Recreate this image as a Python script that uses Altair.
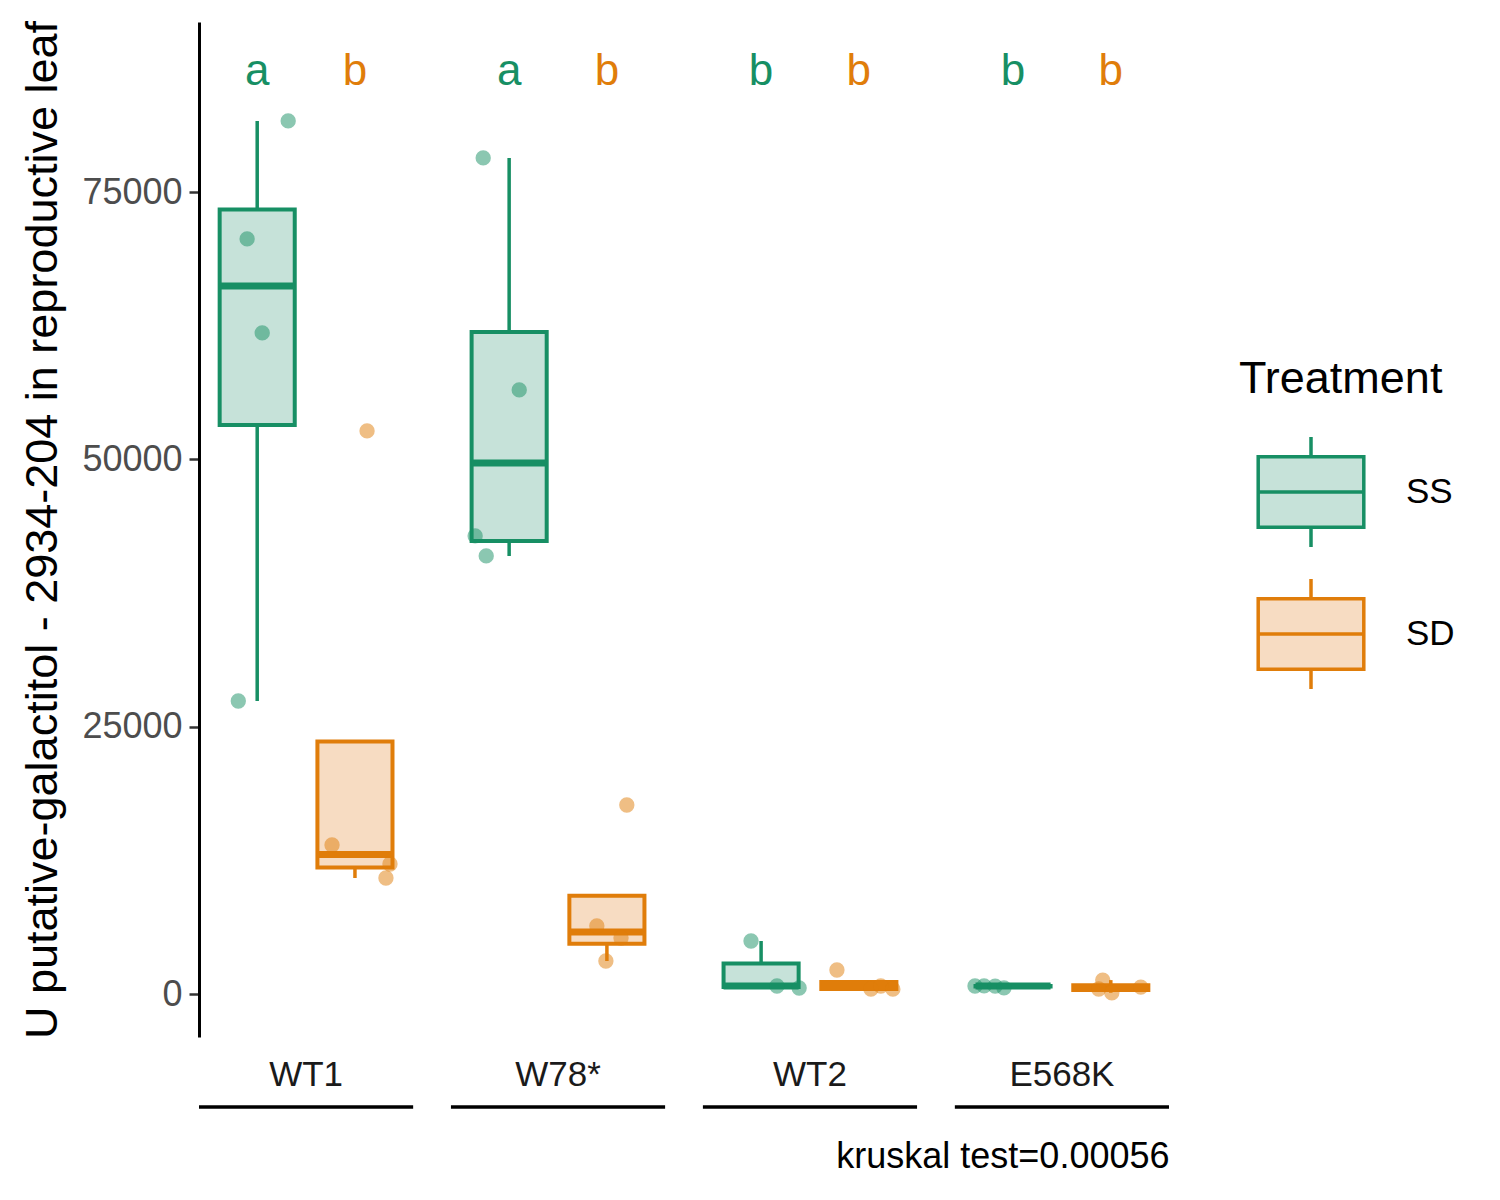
import json
import altair as alt
import pandas as pd

# ---------------- data ----------------
genotypes = ["WT1", "W78*", "WT2", "E568K"]
treatments = ["SS", "SD"]
dark_colors = ["#178F64", "#E07D0A"]
light_colors = ["#C6E2D9", "#F7DCC2"]

sample_genotype = (["WT1"] * 8 + ["W78*"] * 8 + ["WT2"] * 7 + ["E568K"] * 8)
sample_treatment = (["SS"] * 4 + ["SD"] * 4 +
                    ["SS"] * 4 + ["SD"] * 4 +
                    ["SS"] * 3 + ["SD"] * 4 +
                    ["SS"] * 4 + ["SD"] * 4)
sample_value = [81650, 70615, 61823, 27404,
                52657, 13936, 12159, 10849,
                78190, 56492, 42837, 40966,
                17677, 6360, 5238, 3086,
                4957, 748, 561,
                2245, 470, 750, 450,
                750, 760, 740, 580,
                1300, 470, 120, 650]
# horizontal jitter (fraction of group spacing)
sample_jitter = [0.123, -0.040, 0.020, -0.075,
                 0.048, -0.091, 0.139, 0.123,
                 -0.103, 0.040, -0.135, -0.091,
                 0.079, -0.040, 0.056, -0.004,
                 -0.040, 0.063, 0.151,
                 -0.087, 0.048, 0.087, 0.135,
                 -0.151, -0.115, -0.071, -0.036,
                 -0.032, -0.048, 0.004, 0.119]

letter_genotype = ["WT1", "WT1", "W78*", "W78*", "WT2", "WT2", "E568K", "E568K"]
letter_treatment = ["SS", "SD", "SS", "SD", "SS", "SD", "SS", "SD"]
letters = ["a", "b", "a", "b", "b", "b", "b", "b"]

y_title = "U putative-galactitol - 2934-204 in reproductive leaf"
caption = "kruskal test=0.00056"
legend_title = "Treatment"
y_ticks = [0, 25000, 50000, 75000]

# ---------------- layout constants ----------------
W, H = 970, 1015
FONT = "Liberation Sans"
DODGE = 0.194
HALF_BOX = 0.149
HALF_GROUP = 0.425
LETTER_Y = 86200

samples = pd.DataFrame({
    "genotype": sample_genotype,
    "treatment": sample_treatment,
    "value": sample_value,
    "jitter": sample_jitter,
})
letters_df = pd.DataFrame({
    "genotype": letter_genotype,
    "treatment": letter_treatment,
    "letter": letters,
})
geno_df = pd.DataFrame({"genotype": genotypes})

gidx_expr = f"indexof({json.dumps(genotypes)}, datum.genotype)"
pos_expr = f"{gidx_expr} + (datum.treatment == 'SS' ? {-DODGE} : {DODGE})"

x_scale = alt.Scale(domain=[-HALF_GROUP, len(genotypes) - 1 + HALF_GROUP], nice=False, zero=False)
y_scale = alt.Scale(domain=[-4021, 90900], nice=False, zero=False)

x_axis = alt.Axis(domain=False, ticks=False, labels=False, grid=False,
                  title=caption, titleAnchor="end", titleFontSize=36,
                  titleFontWeight="normal", titleColor="#000000", titlePadding=102)
y_axis = alt.Axis(values=y_ticks, format="d", grid=False,
                  labelFontSize=36, labelColor="#4D4D4D", labelPadding=7,
                  tickSize=10, tickWidth=2.5, tickColor="#333333",
                  domainColor="#000000", domainWidth=3,
                  title=y_title, titleFontSize=45, titleFontWeight="normal",
                  titleColor="#000000", titlePadding=16)

symbol_path = ("M-0.96,-0.64H0.96V0.64H-0.96Z M-0.96,0H0.96 "
               "M0,-0.64V-1 M0,0.64V1")
legend = alt.Legend(title=legend_title, orient="none", legendX=1040, legendY=335,
                    symbolType=symbol_path, symbolSize=12100, symbolStrokeWidth=3.5,
                    symbolOffset=15, labelOffset=38, rowPadding=18, titlePadding=33,
                    titleFontSize=45, titleFontWeight="normal", titleColor="#000000",
                    titleLimit=600, labelLimit=300,
                    labelFontSize=35, labelColor="#000000")

stroke_scale = alt.Scale(domain=treatments, range=dark_colors)
fill_scale = alt.Scale(domain=treatments, range=light_colors)
color_scale = alt.Scale(domain=treatments, range=dark_colors)


def X(field):
    return alt.X(field, type="quantitative", scale=x_scale, axis=x_axis, title=caption)


def Y(field):
    return alt.Y(field, type="quantitative", scale=y_scale, axis=y_axis, title=y_title)


stroke_enc = alt.Stroke("treatment:N", scale=stroke_scale, legend=legend, title=legend_title)
fill_enc = alt.Fill("treatment:N", scale=fill_scale, legend=legend, title=legend_title)

base = alt.Chart(samples).transform_calculate(pos=pos_expr)

whiskers = base.transform_joinaggregate(
    q1="q1(value)", q3="q3(value)", groupby=["genotype", "treatment"]
).transform_filter(
    "datum.value >= datum.q1 - 1.5*(datum.q3-datum.q1) && datum.value <= datum.q3 + 1.5*(datum.q3-datum.q1)"
).transform_aggregate(
    lo="min(value)", hi="max(value)", groupby=["genotype", "treatment", "pos"]
).mark_rule(strokeWidth=3.5).encode(
    x=X("pos"), y=Y("lo"), y2="hi:Q", stroke=stroke_enc
)

stats = base.transform_aggregate(
    q1="q1(value)", med="median(value)", q3="q3(value)",
    groupby=["genotype", "treatment", "pos"]
).transform_calculate(
    xl=f"datum.pos - {HALF_BOX}", xr=f"datum.pos + {HALF_BOX}"
)

boxes = stats.mark_bar(strokeWidth=4).encode(
    x=X("xl"), x2="xr:Q", y=Y("q1"), y2="q3:Q",
    fill=fill_enc, stroke=stroke_enc
)

medians = stats.mark_rule(strokeWidth=7, strokeCap="butt").encode(
    x=X("xl"), x2="xr:Q", y=Y("med"), stroke=stroke_enc
)

points = base.transform_calculate(px="datum.pos + datum.jitter").mark_circle(
    size=235, opacity=0.5
).encode(
    x=X("px"), y=Y("value"),
    color=alt.Color("treatment:N", scale=color_scale, legend=None)
)

letter_marks = alt.Chart(letters_df).transform_calculate(pos=pos_expr).mark_text(
    fontSize=44, baseline="middle", font=FONT
).encode(
    x=X("pos"), y=alt.datum(LETTER_Y), text="letter:N",
    color=alt.Color("treatment:N", scale=color_scale, legend=None)
)

geno_base = alt.Chart(geno_df).transform_calculate(
    gi=gidx_expr, l=f"datum.gi - {HALF_GROUP}", r=f"datum.gi + {HALF_GROUP}"
)
geno_labels = geno_base.mark_text(fontSize=35, baseline="middle", color="#1A1A1A", font=FONT).encode(
    x=X("gi"), y=alt.value(H + 38), text="genotype:N"
)
geno_lines = geno_base.mark_rule(strokeWidth=3.5, color="#000000").encode(
    x=X("l"), x2="r:Q", y=alt.value(H + 70)
)

chart = alt.layer(
    whiskers, boxes, medians, points, letter_marks, geno_labels, geno_lines
).properties(
    width=W, height=H, padding={"left": 12, "top": 12, "right": 5, "bottom": 5}
).configure(font=FONT).configure_view(stroke=None)

chart.save("out.html", embed_options={"renderer": "svg", "actions": False})
